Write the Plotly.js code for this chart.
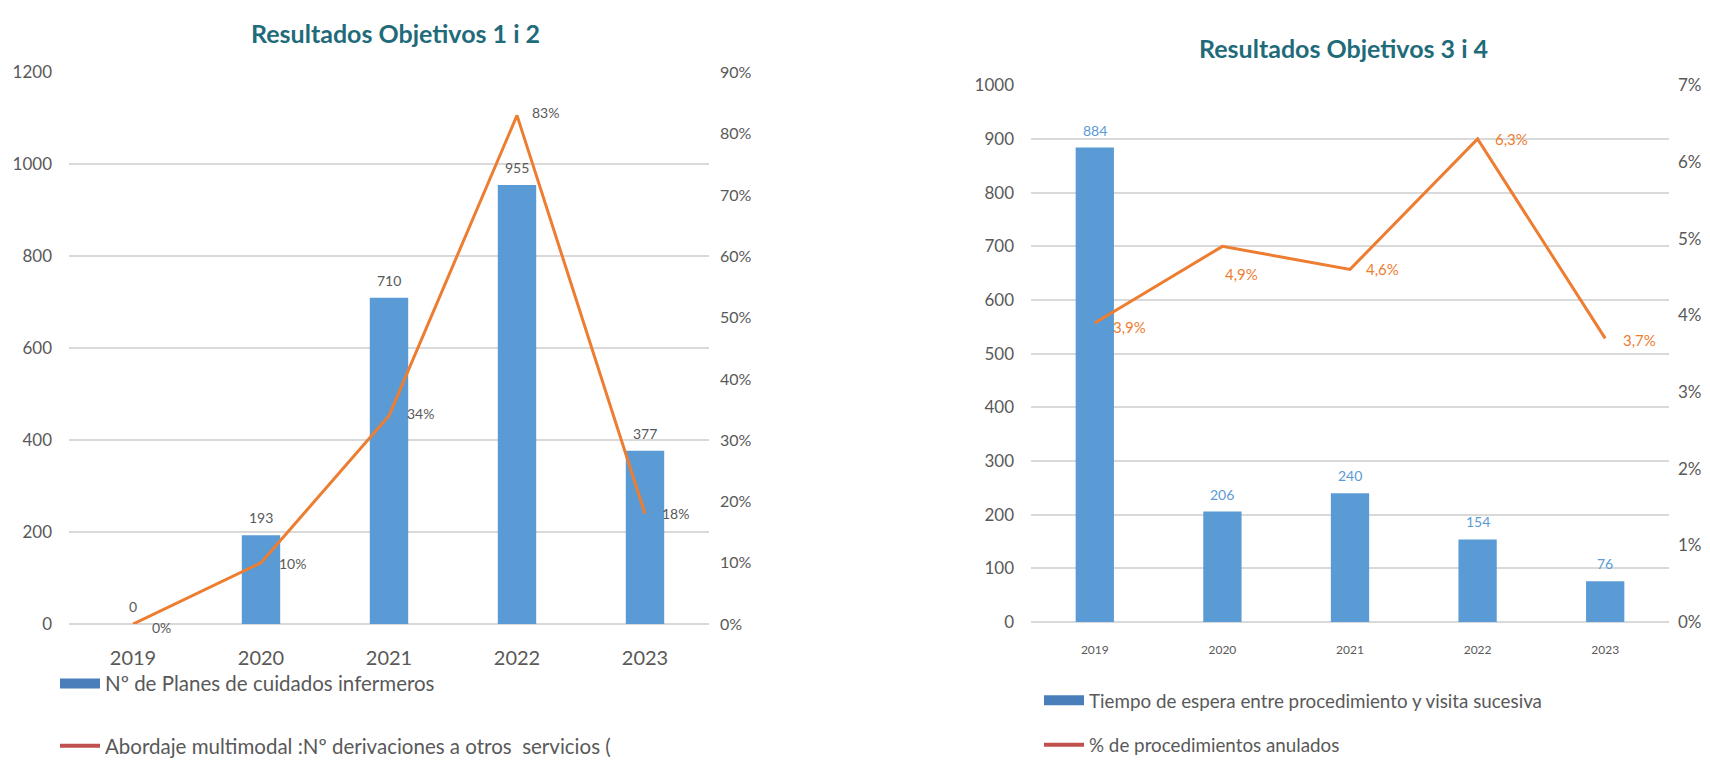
<!DOCTYPE html>
<html>
<head>
<meta charset="utf-8">
<script src="https://cdn.plot.ly/plotly-3.0.1.min.js"></script>
<style>html,body{margin:0;padding:0;background:#fff;}#chart{width:1710px;height:766px;}</style>
</head>
<body>
<div id="chart"></div>
<script>
// Chart 1 data
const years = ['2019', '2020', '2021', '2022', '2023'];
const planes = [0, 193, 710, 955, 377];
const derivaciones = [0, 0.10, 0.34, 0.83, 0.18];
// Chart 2 data
const tiempoEspera = [884, 206, 240, 154, 76];
const anulados = [0.039, 0.049, 0.046, 0.063, 0.037];

const title1 = 'Resultados Objetivos 1 i 2';
const title2 = 'Resultados Objetivos 3 i 4';
const legBar1 = 'Nº de Planes de cuidados infermeros';
const legLine1 = 'Abordaje multimodal :Nº derivaciones a otros  servicios (';
const legBar2 = 'Tiempo de espera entre procedimiento y visita sucesiva';
const legLine2 = '% de procedimientos anulados';

// label placement (styling, in pixels)
const lineLblShift1 = [[28, -3], [31, -1], [31, 2], [28, 3], [30, 0]];
const lineLblShift2 = [[35, -4], [19, -28], [32, 0], [34, 0], [34, -2]];

const FONT = 'Lato, Open Sans, sans-serif';
const GRAY = '#595959';
const BAR = '#5b9bd5';
const ORANGE = '#ed7d31';

const pct0 = derivaciones.map(v => Math.round(v * 100) + '%');
const pct1 = anulados.map(v => (v * 100).toFixed(1).replace('.', ',') + '%');

const traces = [
  {type: 'bar', x: years, y: planes, xaxis: 'x', yaxis: 'y', marker: {color: BAR}, width: 0.3, showlegend: false},
  {type: 'scatter', mode: 'lines', x: years, y: derivaciones, xaxis: 'x', yaxis: 'y2',
   line: {color: ORANGE, width: 3}, showlegend: false},
  {type: 'bar', x: years, y: tiempoEspera, xaxis: 'x2', yaxis: 'y3', marker: {color: BAR}, width: 0.3, showlegend: false},
  {type: 'scatter', mode: 'lines', x: years, y: anulados, xaxis: 'x2', yaxis: 'y4',
   line: {color: ORANGE, width: 3}, showlegend: false},
  // legend entries
  {type: 'scatter', mode: 'lines', x: [null], y: [null], name: legBar1, line: {color: '#4a7ebb', width: 12}, legend: 'legend', hoverinfo: 'skip'},
  {type: 'scatter', mode: 'lines', x: [null], y: [null], name: legLine1, line: {color: '#c0504d', width: 4}, legend: 'legend2', hoverinfo: 'skip'},
  {type: 'scatter', mode: 'lines', x: [null], y: [null], name: legBar2, xaxis: 'x2', yaxis: 'y3', line: {color: '#4a7ebb', width: 12}, legend: 'legend3', hoverinfo: 'skip'},
  {type: 'scatter', mode: 'lines', x: [null], y: [null], name: legLine2, xaxis: 'x2', yaxis: 'y3', line: {color: '#c0504d', width: 4}, legend: 'legend4', hoverinfo: 'skip'}
];

const W = 1710, H = 766;
const legCommon = {bgcolor: 'rgba(0,0,0,0)', itemwidth: 40, xanchor: 'left', yanchor: 'middle', itemclick: false, itemdoubleclick: false};

const annotations = [
  {xref: 'paper', yref: 'paper', x: 395 / W, y: 1 - 33 / H, text: '<b>' + title1 + '</b>', showarrow: false,
   font: {family: FONT, size: 25, color: '#1f6b7a'}, xanchor: 'center', yanchor: 'middle'},
  {xref: 'paper', yref: 'paper', x: 1343 / W, y: 1 - 48 / H, text: '<b>' + title2 + '</b>', showarrow: false,
   font: {family: FONT, size: 25, color: '#1f6b7a'}, xanchor: 'center', yanchor: 'middle'}
];
// on category axes annotations are placed by category index
years.forEach((yr, i) => {
  annotations.push({xref: 'x', yref: 'y', x: i, y: planes[i], text: String(planes[i]), showarrow: false,
    xanchor: 'center', yanchor: 'bottom', yshift: 7, font: {family: FONT, size: 14, color: GRAY}});
  annotations.push({xref: 'x', yref: 'y2', x: i, y: derivaciones[i], text: pct0[i], showarrow: false,
    xanchor: 'center', yanchor: 'middle', xshift: lineLblShift1[i][0], yshift: lineLblShift1[i][1],
    font: {family: FONT, size: 14, color: GRAY}});
  annotations.push({xref: 'x2', yref: 'y3', x: i, y: tiempoEspera[i], text: String(tiempoEspera[i]), showarrow: false,
    xanchor: 'center', yanchor: 'bottom', yshift: 7, font: {family: FONT, size: 14, color: BAR}});
  annotations.push({xref: 'x2', yref: 'y4', x: i, y: anulados[i], text: pct1[i], showarrow: false,
    xanchor: 'center', yanchor: 'middle', xshift: lineLblShift2[i][0], yshift: lineLblShift2[i][1],
    font: {family: FONT, size: 15, color: ORANGE}});
});

const layout = {
  width: W, height: H,
  margin: {l: 0, r: 0, t: 0, b: 0},
  paper_bgcolor: '#fff', plot_bgcolor: '#fff',
  font: {family: FONT, color: GRAY},
  xaxis: {domain: [69 / W, 709 / W], type: 'category', range: [-0.5, 4.5], showgrid: false, zeroline: false, showline: false,
          ticks: '', tickfont: {family: FONT, size: 20, color: GRAY}, ticklabelstandoff: 20, fixedrange: true},
  yaxis: {domain: [137 / H, 693 / H], range: [0, 1200], dtick: 200, showgrid: true, gridcolor: '#d9d9d9', gridwidth: 1.5,
          zeroline: true, zerolinecolor: '#d9d9d9', zerolinewidth: 1.5, ticks: '', tickfont: {family: FONT, size: 17, color: GRAY}, ticklabelstandoff: 16, fixedrange: true},
  yaxis2: {overlaying: 'y', side: 'right', range: [0, 0.9], dtick: 0.1, tickformat: '.0%', showgrid: false, zeroline: false,
           ticks: '', tickfont: {family: FONT, size: 16, color: GRAY}, ticklabelstandoff: 10, fixedrange: true},
  xaxis2: {domain: [1031 / W, 1669 / W], anchor: 'y3', type: 'category', range: [-0.5, 4.5], showgrid: false, zeroline: false, showline: false,
           ticks: '', tickfont: {family: FONT, size: 12, color: GRAY}, ticklabelstandoff: 19, fixedrange: true},
  yaxis3: {domain: [139 / H, 680 / H], anchor: 'x2', range: [0, 1000], dtick: 100, showgrid: true, gridcolor: '#d9d9d9', gridwidth: 1.5,
           zeroline: true, zerolinecolor: '#d9d9d9', zerolinewidth: 1.5, ticks: '', tickfont: {family: FONT, size: 17, color: GRAY}, ticklabelstandoff: 16, fixedrange: true},
  yaxis4: {overlaying: 'y3', anchor: 'x2', side: 'right', range: [0, 0.07], dtick: 0.01, tickformat: '.0%', showgrid: false, zeroline: false,
           ticks: '', tickfont: {family: FONT, size: 17, color: GRAY}, ticklabelstandoff: 8, fixedrange: true},
  legend: Object.assign({}, legCommon, {x: 55 / W, y: 1 - 689 / H, font: {family: FONT, size: 20.5, color: GRAY}}),
  legend2: Object.assign({}, legCommon, {x: 55 / W, y: 1 - 752 / H, font: {family: FONT, size: 20.5, color: GRAY}}),
  legend3: Object.assign({}, legCommon, {x: 1039 / W, y: 1 - 706 / H, font: {family: FONT, size: 18.8, color: GRAY}}),
  legend4: Object.assign({}, legCommon, {x: 1039 / W, y: 1 - 751 / H, font: {family: FONT, size: 18.8, color: GRAY}}),
  annotations: annotations
};

Plotly.newPlot('chart', traces, layout, {displayModeBar: false});
</script>
</body>
</html>
